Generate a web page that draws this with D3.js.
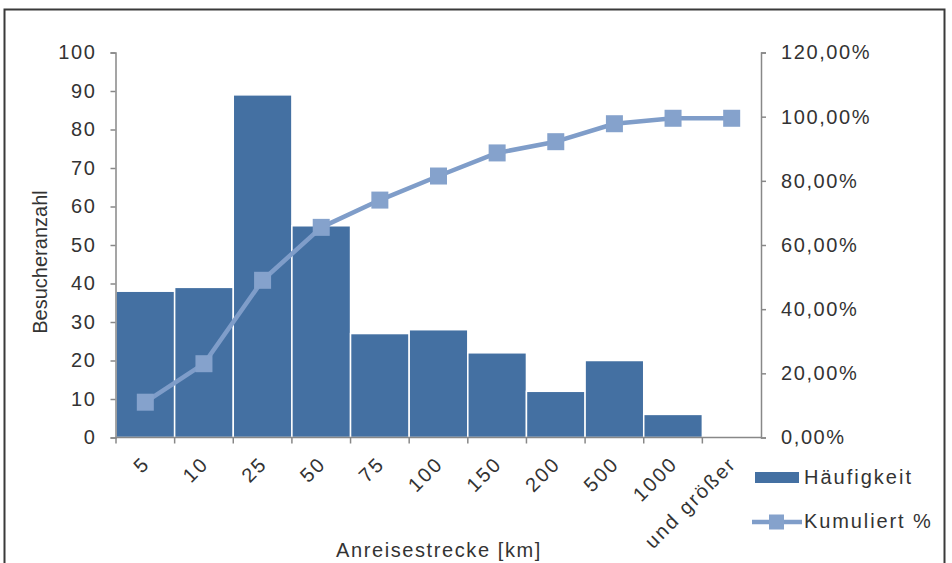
<!DOCTYPE html>
<html><head><meta charset="utf-8">
<script src="https://cdn.jsdelivr.net/npm/d3@7"></script>
<style>
html,body{margin:0;padding:0;background:#fff;}
text{font-family:"Liberation Sans",Arial,sans-serif;fill:#333;}
</style></head>
<body>
<svg id="chart" width="952" height="563"></svg>
<script>
const categories = ["5","10","25","50","75","100","150","200","500","1000","und größer"];
const counts = [38,39,89,55,27,28,22,12,20,6,0];
const cumulativePct = [11.0,23.0,49.0,65.5,74.0,81.5,88.7,92.2,97.8,99.5,99.5];
const leftTicks = [0,10,20,30,40,50,60,70,80,90,100];
const rightTicks = [0,20,40,60,80,100,120];

const svg = d3.select("#chart");
const L = 115.5, R = 761, T = 52.5, B = 437.5;
const fs = 20, ls = "1.6px";

svg.append("rect").attr("x",4.5).attr("y",9.5).attr("width",940).attr("height",600)
  .attr("fill","none").attr("stroke","#3a3a3a").attr("stroke-width",2);

const x = d3.scaleBand().domain(categories).range([L+0.5,R]).paddingInner(0).paddingOuter(0);
const yL = d3.scaleLinear().domain([0,100]).range([B,T]);
const yR = d3.scaleLinear().domain([0,120]).range([B,T]);

// bars
svg.append("g").selectAll("rect").data(categories).join("rect")
  .attr("x",d=>x(d)).attr("width",x.bandwidth())
  .attr("y",(d,i)=>yL(counts[i])).attr("height",(d,i)=>B-yL(counts[i]))
  .attr("fill","#4470a2").attr("stroke","#fff").attr("stroke-width",1.5);

// left axis
const gL = svg.append("g").attr("transform",`translate(${L},0)`)
  .call(d3.axisLeft(yL).tickValues(leftTicks).tickSize(5).tickPadding(14).tickFormat(d3.format("d")));
// right axis
const fmtPct = d => d.toFixed(2).replace(".",",") + "%";
const gR = svg.append("g").attr("transform",`translate(${R},0)`)
  .call(d3.axisRight(yR).tickValues(rightTicks).tickSize(5).tickPadding(15).tickFormat(fmtPct));
// x axis
const gX = svg.append("g").attr("transform",`translate(0,${B})`)
  .call(d3.axisBottom(x).tickSize(6).tickFormat(""));
gX.selectAll(".tick").remove();
const edges = categories.map(c=>x(c)).concat([R]);
gX.selectAll("line.edge").data(edges.slice(0,11)).join("line").attr("class","edge")
  .attr("x1",d=>d).attr("x2",d=>d).attr("y1",0).attr("y2",6);

[gL,gR,gX].forEach(g=>{
  g.select(".domain").attr("stroke","#888").attr("stroke-width",1.5);
  g.selectAll("line").attr("stroke","#888").attr("stroke-width",1.5);
  g.selectAll("text").attr("font-size",fs).attr("fill","#333").style("letter-spacing",ls)
    .attr("font-family","'Liberation Sans',Arial,sans-serif");
});
gX.select(".domain").attr("d",`M${L},0H${R}`);

// x labels rotated
svg.append("g").selectAll("text").data(categories).join("text")
  .attr("transform",d=>`translate(${x(d)+x.bandwidth()/2+1},460) rotate(-45)`)
  .attr("text-anchor","end").attr("dy","0.35em")
  .attr("font-size",fs).style("letter-spacing","2.2px")
  .text(d=>d);

// line
const cx = (d)=>x(d)+x.bandwidth()/2;
const line = d3.line().x((d,i)=>cx(categories[i])).y(d=>yR(d));
svg.append("path").datum(cumulativePct).attr("d",line)
  .attr("fill","none").attr("stroke","#7f9dc9").attr("stroke-width",4.5).attr("stroke-linejoin","round");
const ms = 17;
svg.append("g").selectAll("rect").data(cumulativePct).join("rect")
  .attr("x",(d,i)=>cx(categories[i])-ms/2).attr("y",d=>yR(d)-ms/2)
  .attr("width",ms).attr("height",ms).attr("fill","#85a2cc");

// axis titles
svg.append("text").attr("transform","translate(47,262) rotate(-90)")
  .attr("text-anchor","middle").attr("font-size",fs).text("Besucheranzahl");
svg.append("text").attr("x",439).attr("y",557).attr("text-anchor","middle")
  .attr("font-size",fs).style("letter-spacing",ls).text("Anreisestrecke [km]");

// legend
const lg = svg.append("g");
lg.append("rect").attr("x",755).attr("y",472).attr("width",44).attr("height",11).attr("fill","#4470a2");
lg.append("text").attr("x",804).attr("y",477).attr("dy","0.35em").attr("font-size",fs)
  .style("letter-spacing","2px").text("Häufigkeit");
lg.append("line").attr("x1",752).attr("x2",802).attr("y1",522).attr("y2",522)
  .attr("stroke","#7f9dc9").attr("stroke-width",4.5);
lg.append("rect").attr("x",769).attr("y",514.5).attr("width",15).attr("height",15).attr("fill","#85a2cc");
lg.append("text").attr("x",804).attr("y",521).attr("dy","0.35em").attr("font-size",fs)
  .style("letter-spacing","1.9px").text("Kumuliert %");
</script>
</body></html>
